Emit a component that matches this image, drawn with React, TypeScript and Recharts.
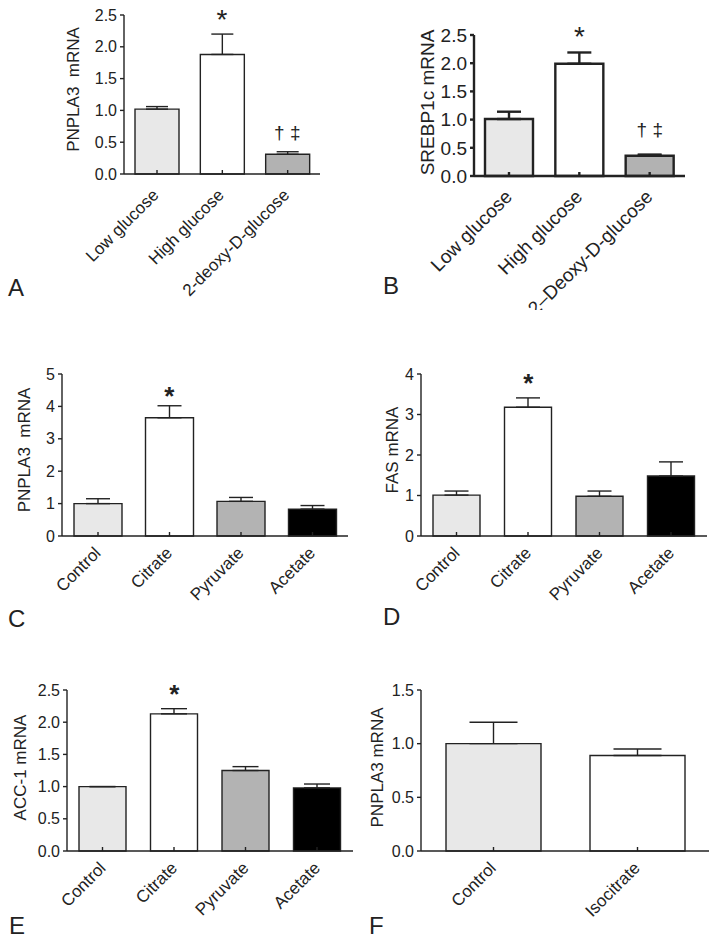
import React from 'react';
import { BarChart, Bar, XAxis, YAxis, ErrorBar, Cell, ReferenceDot, Rectangle } from 'recharts';

const FONT = '"Liberation Sans", Arial, sans-serif';
const INK = '#222';

// A: glucose, PNPLA3
const glucoseA = ['Low glucose', 'High glucose', '2-deoxy-D-glucose'];
const pnpla3A = [1.02, 1.88, 0.31];
const pnpla3AErr = [0.04, 0.32, 0.04];
const notesA = ['', '*', '† ‡'];

// B: glucose, SREBP1c
const glucoseB = ['Low glucose', 'High glucose', '2–Deoxy-D-glucose'];
const srebpB = [1.01, 1.99, 0.36];
const srebpBErr = [0.13, 0.2, 0.02];
const notesB = ['', '*', '† ‡'];

// C, D, E: organic acids
const acids = ['Control', 'Citrate', 'Pyruvate', 'Acetate'];
const pnpla3C = [1.0, 3.65, 1.07, 0.83];
const pnpla3CErr = [0.15, 0.37, 0.12, 0.11];
const fasD = [1.01, 3.18, 0.98, 1.48];
const fasDErr = [0.1, 0.23, 0.13, 0.35];
const acc1E = [1.0, 2.13, 1.25, 0.98];
const acc1EErr = [0, 0.08, 0.06, 0.06];
const notesAcid = ['', '*', '', ''];

// F: isocitrate
const isoGroups = ['Control', 'Isocitrate'];
const pnpla3F = [1.0, 0.89];
const pnpla3FErr = [0.2, 0.06];
const notesF = ['', ''];

const ticksGlucose = [0, 0.5, 1, 1.5, 2, 2.5];
const ticksC = [0, 1, 2, 3, 4, 5];
const ticksD = [0, 1, 2, 3, 4];
const ticksF = [0, 0.5, 1, 1.5];

const fills3 = ['#e8e8e8', '#ffffff', '#b2b2b2'];
const fills4 = ['#e8e8e8', '#ffffff', '#b3b3b3', '#000000'];
const fills2 = ['#e8e8e8', '#ffffff'];

type Margin = { top: number; right: number; bottom: number; left: number };

interface PanelProps {
  left: number;
  top: number;
  width: number;
  height: number;
  margin: Margin;
  yWidth: number;
  xHeight: number;
  groups: string[];
  means: number[];
  errors: number[];
  notes: string[];
  fills: string[];
  ticks: number[];
  digits: number;
  title: string;
  titleX: number;
  titleDy: number;
  barSize: number;
  cap: number;
  line: number;
  tickFont: number;
  labelFont: number;
  titleFont: number;
  labelDx: number;
  labelDy: number;
  starFont: number;
  starBold: boolean;
  starOffset: number;
  daggerOffset: number;
}

const Panel: React.FC<PanelProps> = (p) => {
  const rows = p.groups.map((g, i) => ({ name: g, value: p.means[i], err: [0, p.errors[i]], note: p.notes[i] }));
  const top = p.ticks[p.ticks.length - 1];

  const SlantTick = (t: any) => {
    const ax = t.x + p.labelDx;
    const ay = t.y + p.labelDy;
    return (
      <text
        x={ax}
        y={ay}
        transform={`rotate(-45 ${ax} ${ay})`}
        textAnchor="end"
        fontSize={p.labelFont}
        fontFamily={FONT}
        fill={INK}
      >
        {t.payload.value}
      </text>
    );
  };

  const BarShape = (b: any) => {
    const cx = b.x + b.width / 2;
    const base = b.y + b.height;
    return (
      <g>
        <Rectangle x={b.x} y={b.y} width={b.width} height={b.height} fill={p.fills[b.index]} stroke={INK} strokeWidth={p.line} />
        <line x1={cx} x2={cx} y1={base} y2={base - 4} stroke={INK} strokeWidth={p.line} />
      </g>
    );
  };

  const YTitle = (l: any) => {
    const vb = l.viewBox;
    const cx = vb.x + p.titleX;
    const cy = vb.y + vb.height / 2 + p.titleDy;
    return (
      <text
        x={cx}
        y={cy}
        transform={`rotate(-90 ${cx} ${cy})`}
        textAnchor="middle"
        dominantBaseline="central"
        fontSize={p.titleFont}
        fontFamily={FONT}
        fill={INK}
        style={{ whiteSpace: 'pre' }}
      >
        {p.title}
      </text>
    );
  };

  return (
    <div style={{ position: 'absolute', left: p.left, top: p.top }}>
      <BarChart width={p.width} height={p.height} data={rows} margin={p.margin}>
        <XAxis
          dataKey="name"
          height={p.xHeight}
          axisLine={{ stroke: INK, strokeWidth: p.line }}
          tickLine={false}
          tickSize={0}
          tickMargin={0}
          interval={0}
          tick={SlantTick}
        />
        <YAxis
          width={p.yWidth}
          domain={[0, top]}
          ticks={p.ticks}
          interval={0}
          tickFormatter={(v: number) => v.toFixed(p.digits)}
          axisLine={{ stroke: INK, strokeWidth: p.line }}
          tickLine={{ stroke: INK, strokeWidth: p.line }}
          tickSize={4}
          tickMargin={3}
          tick={{ fill: INK, fontSize: p.tickFont, fontFamily: FONT }}
          label={{ content: YTitle }}
        />
        <Bar dataKey="value" barSize={p.barSize} shape={BarShape} isAnimationActive={false}>
          {rows.map((r, i) => (
            <Cell key={`cell-${i}`} fill={p.fills[i]} />
          ))}
          <ErrorBar dataKey="err" direction="y" width={p.cap} stroke={INK} strokeWidth={p.line} isAnimationActive={false} />
        </Bar>
        {rows
          .filter((r) => r.note)
          .map((r) => {
            const star = r.note === '*';
            return (
              <ReferenceDot
                key={r.name}
                x={r.name}
                y={r.value + r.err[1]}
                r={0}
                fill="none"
                stroke="none"
                label={{
                  value: r.note,
                  position: 'top',
                  offset: star ? p.starOffset : p.daggerOffset,
                  fontSize: star ? p.starFont : 19,
                  fontFamily: FONT,
                  fontWeight: star && p.starBold ? 'bold' : 'normal',
                  fill: INK,
                }}
              />
            );
          })}
      </BarChart>
    </div>
  );
};

const Letter: React.FC<{ text: string; left: number; top: number }> = ({ text, left, top }) => (
  <div style={{ position: 'absolute', left, top, fontFamily: FONT, fontSize: 24, lineHeight: '24px', color: INK }}>{text}</div>
);

const common = {
  tickFont: 16,
  labelFont: 17,
  titleFont: 17,
  digits: 1,
  daggerOffset: 12,
};

export default function App() {
  return (
    <div style={{ position: 'absolute', left: 0, top: 0, width: 714, height: 942, background: '#fff', overflow: 'hidden' }}>
      <Panel
        {...common}
        left={0}
        top={0}
        width={357}
        height={310}
        margin={{ top: 15, right: 37, bottom: 6, left: 0 }}
        yWidth={124}
        xHeight={130}
        groups={glucoseA}
        means={pnpla3A}
        errors={pnpla3AErr}
        notes={notesA}
        fills={fills3}
        ticks={ticksGlucose}
        title="PNPLA3  mRNA"
        titleX={73}
        titleDy={-5}
        barSize={44}
        cap={11}
        line={1.4}
        labelDx={3}
        labelDy={22}
        starFont={28}
        starBold={false}
        starOffset={5}
        daggerOffset={13}
      />
      <Panel
        {...common}
        tickFont={19}
        labelFont={19}
        titleFont={19}
        left={357}
        top={0}
        width={357}
        height={310}
        margin={{ top: 35, right: 29, bottom: 4, left: 0 }}
        yWidth={117}
        xHeight={130}
        groups={glucoseB}
        means={srebpB}
        errors={srebpBErr}
        notes={notesB}
        fills={fills3}
        ticks={ticksGlucose}
        title="SREBP1c mRNA"
        titleX={70}
        titleDy={-3}
        barSize={48}
        cap={12}
        line={2.4}
        labelDx={4}
        labelDy={22}
        starFont={28}
        starBold={false}
        starOffset={6}
        daggerOffset={19}
      />
      <Panel
        {...common}
        digits={0}
        left={0}
        top={310}
        width={357}
        height={310}
        margin={{ top: 64, right: 9, bottom: 4, left: 0 }}
        yWidth={62}
        xHeight={80}
        groups={acids}
        means={pnpla3C}
        errors={pnpla3CErr}
        notes={notesAcid}
        fills={fills4}
        ticks={ticksC}
        title="PNPLA3  mRNA"
        titleX={24}
        titleDy={-5}
        barSize={48}
        cap={12}
        line={1.4}
        labelDx={4}
        labelDy={18}
        starFont={26}
        starBold={true}
        starOffset={1}
      />
      <Panel
        {...common}
        digits={0}
        left={357}
        top={310}
        width={357}
        height={310}
        margin={{ top: 64, right: 7, bottom: 4, left: 0 }}
        yWidth={64}
        xHeight={80}
        groups={acids}
        means={fasD}
        errors={fasDErr}
        notes={notesAcid}
        fills={fills4}
        ticks={ticksD}
        title="FAS mRNA"
        titleX={35}
        titleDy={-5}
        barSize={47}
        cap={12}
        line={1.4}
        labelDx={4}
        labelDy={18}
        starFont={26}
        starBold={true}
        starOffset={6}
      />
      <Panel
        {...common}
        left={0}
        top={620}
        width={357}
        height={322}
        margin={{ top: 70, right: 4, bottom: 4, left: 0 }}
        yWidth={67}
        xHeight={87}
        groups={acids}
        means={acc1E}
        errors={acc1EErr}
        notes={notesAcid}
        fills={fills4}
        ticks={ticksGlucose}
        title="ACC-1 mRNA"
        titleX={20}
        titleDy={-3}
        barSize={47}
        cap={13}
        line={1.4}
        labelDx={4}
        labelDy={18}
        starFont={26}
        starBold={true}
        starOffset={6}
      />
      <Panel
        {...common}
        left={357}
        top={620}
        width={357}
        height={322}
        margin={{ top: 70, right: 5, bottom: 4, left: 0 }}
        yWidth={64}
        xHeight={87}
        groups={isoGroups}
        means={pnpla3F}
        errors={pnpla3FErr}
        notes={notesF}
        fills={fills2}
        ticks={ticksF}
        title="PNPLA3 mRNA"
        titleX={20}
        titleDy={-3}
        barSize={95}
        cap={24}
        line={1.4}
        labelDx={4}
        labelDy={18}
        starFont={26}
        starBold={false}
        starOffset={4}
      />
      <Letter text="A" left={8} top={276} />
      <Letter text="B" left={383} top={274} />
      <Letter text="C" left={8} top={607} />
      <Letter text="D" left={383} top={605} />
      <Letter text="E" left={9} top={914} />
      <Letter text="F" left={369} top={914} />
    </div>
  );
}
